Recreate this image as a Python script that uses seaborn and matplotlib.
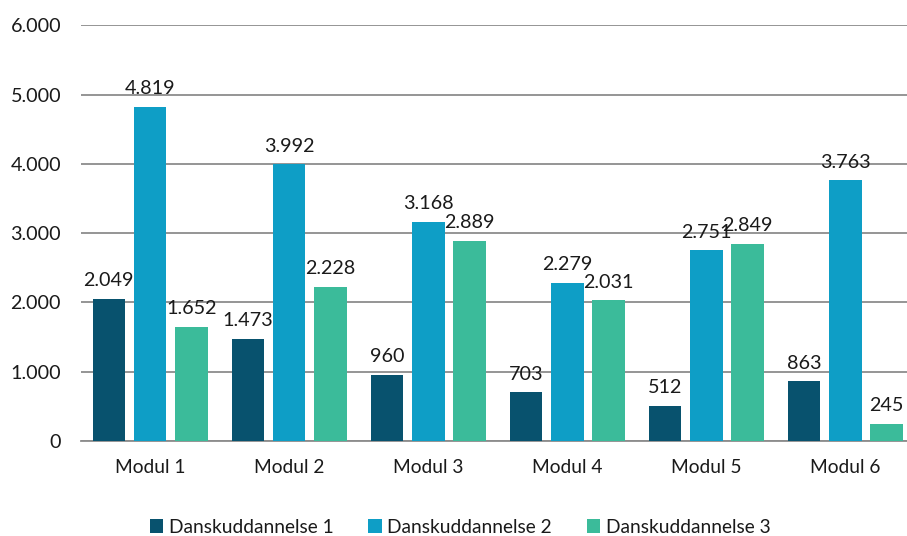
import matplotlib
matplotlib.use("Agg")
import matplotlib.pyplot as plt
import seaborn as sns
import pandas as pd

# Data
moduler = ["Modul 1", "Modul 2", "Modul 3", "Modul 4", "Modul 5", "Modul 6"]
serier = ["Danskuddannelse 1", "Danskuddannelse 2", "Danskuddannelse 3"]
du1 = [2049, 1473, 960, 703, 512, 863]
du2 = [4819, 3992, 3168, 2279, 2751, 3763]
du3 = [1652, 2228, 2889, 2031, 2849, 245]
farver = ["#08526E", "#0E9EC6", "#3BBB9A"]

df = pd.DataFrame({
    "Modul": moduler * 3,
    "Serie": [serier[0]] * 6 + [serier[1]] * 6 + [serier[2]] * 6,
    "Antal": du1 + du2 + du3,
})

sns.set_theme(style="white")
plt.rcParams["font.family"] = ["Lato", "DejaVu Sans"]

fig = plt.figure(figsize=(9.07, 5.36), dpi=100)
ax = fig.add_axes([0.0888, 0.177, 0.920, 0.776])

sns.barplot(data=df, x="Modul", y="Antal", hue="Serie", palette=farver,
            width=0.89, gap=0.21, ax=ax, saturation=1, errorbar=None,
            linewidth=0, edgecolor="none", zorder=3)

def fmt(v):
    return f"{v:,.0f}".replace(",", ".")

num_fs = 14.2
txt_fs = 13.8

for cont in ax.containers:
    ax.bar_label(cont, labels=[fmt(v) for v in cont.datavalues],
                 padding=7, fontsize=num_fs, color="#1a1a1a")

ax.set_ylim(0, 6000)
ax.set_yticks(range(0, 6001, 1000))
ax.set_yticklabels([fmt(v) for v in range(0, 6001, 1000)], fontsize=num_fs, color="#1a1a1a")
ax.tick_params(axis="x", labelsize=txt_fs, colors="#1a1a1a", length=0, pad=13)
ax.tick_params(axis="y", length=0, pad=14)
ax.set_xlabel("")
ax.set_ylabel("")
ax.set_xlim(-0.5, 5.5)
ax.yaxis.grid(True, color="#8c8c8c", linewidth=1.3, zorder=0)
ax.set_axisbelow(True)
for s in ["top", "right", "left"]:
    ax.spines[s].set_visible(False)
ax.spines["bottom"].set_color("#8c8c8c")
ax.spines["bottom"].set_linewidth(1.3)

leg = ax.legend(loc="upper center", bbox_to_anchor=(0.455, -0.168), ncol=3,
                frameon=False, fontsize=txt_fs, handlelength=0.7, handleheight=0.7,
                handletextpad=0.3, columnspacing=1.8, borderaxespad=0)
for t in leg.get_texts():
    t.set_color("#1a1a1a")

fig.savefig("out.png", dpi=100)
